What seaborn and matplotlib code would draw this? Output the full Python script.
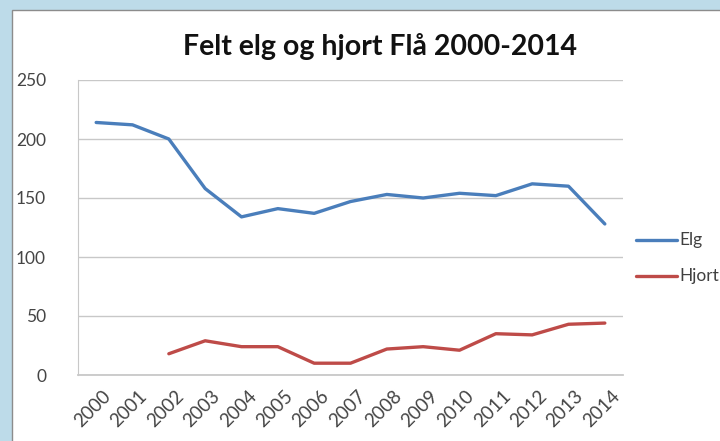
import pandas as pd
import numpy as np
import matplotlib
matplotlib.use("Agg")
import matplotlib.pyplot as plt
import matplotlib.transforms as mtransforms
import seaborn as sns
from matplotlib.patches import Rectangle

# Harvest numbers
years = list(range(2000, 2015))
elg = [214, 212, 200, 158, 134, 141, 137, 147, 153, 150, 154, 152, 162, 160, 128]
hjort = [np.nan, np.nan, 18, 29, 24, 24, 10, 10, 22, 24, 21, 35, 34, 43, 44]
y_ticks = [0, 50, 100, 150, 200, 250]

df = pd.DataFrame({"År": years * 2,
                   "Antall": elg + hjort,
                   "Art": ["Elg"] * len(years) + ["Hjort"] * len(years)})

sns.set_style("white")
plt.rcParams["font.family"] = ["Lato", "DejaVu Sans"]

fig = plt.figure(figsize=(7.2, 4.41), dpi=100)
fig.patch.set_facecolor("#bddbe9")

# white chart box behind everything
fig.patches.append(Rectangle((12 / 720, -0.05), 1.0, 1 - 10 / 441 + 0.05,
                             transform=fig.transFigure, facecolor="white",
                             edgecolor="#8c8c8c", linewidth=1.0, zorder=-10))

ax = fig.add_axes([78 / 720, 1 - 375 / 441, 545 / 720, 295 / 441])
ax.set_facecolor("none")

sns.lineplot(data=df, x="År", y="Antall", hue="Art", ax=ax,
             palette={"Elg": "#4a7ebb", "Hjort": "#be4b48"},
             linewidth=2.4, legend=False)

ax.set_xlim(1999.5, 2014.5)
ax.set_ylim(0, 250)
ax.set_yticks(y_ticks)
ax.set_xticks(years)
ax.set_xticklabels([str(y) for y in years], rotation=45, ha="right",
                   rotation_mode="anchor")
ax.tick_params(axis="both", colors="#454545", length=0)
ax.tick_params(axis="y", labelsize=12.5, pad=23)
ax.tick_params(axis="x", labelsize=13.5, pad=9)
# nudge rotated year labels a bit to the right, like Excel does
shift = mtransforms.ScaledTranslation(6 / 100, 0, fig.dpi_scale_trans)
for lbl in ax.get_xticklabels():
    lbl.set_transform(lbl.get_transform() + shift)
ax.set_xlabel("")
ax.set_ylabel("")
ax.grid(axis="y", color="#c8c8c8", linewidth=1.0)
for side in ["top", "right"]:
    ax.spines[side].set_visible(False)
ax.spines["left"].set_color("#c8c8c8")
ax.spines["bottom"].set_color("#c8c8c8")
ax.spines["bottom"].set_linewidth(1.3)

fig.text(380 / 720, 1 - 47 / 441, "Felt elg og hjort Flå 2000-2014",
         ha="center", va="center", fontsize=20.5, fontweight="bold", color="#111111")

# legend
for label, color, ypx in [("Elg", "#4a7ebb", 240), ("Hjort", "#be4b48", 276)]:
    yy = 1 - ypx / 441
    fig.lines.append(plt.Line2D([636 / 720, 677 / 720], [yy, yy],
                                transform=fig.transFigure, color=color, linewidth=2.4))
    fig.text(679 / 720, yy, label, ha="left", va="center", fontsize=12.5, color="#404040")

fig.savefig("out.png", dpi=100, facecolor=fig.get_facecolor())
